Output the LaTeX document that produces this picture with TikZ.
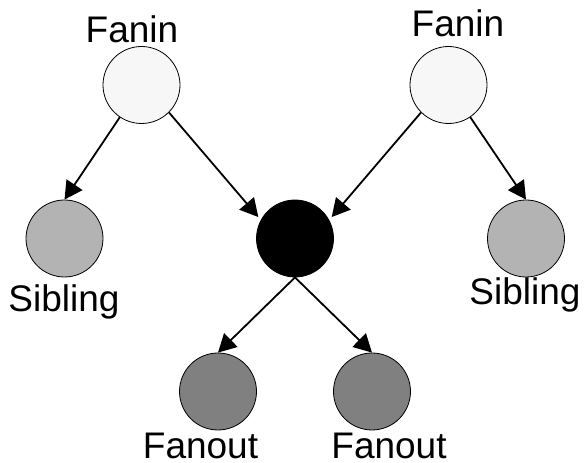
\documentclass[tikz,border=0pt]{standalone}
\usepackage{fontspec}
\setmainfont{Liberation Sans}
\usetikzlibrary{arrows.meta}
\definecolor{faninfill}{HTML}{F7F7F7}
\definecolor{sibfill}{HTML}{B3B3B3}
\definecolor{fanoutfill}{HTML}{808080}
\begin{document}
\begin{tikzpicture}[x=1pt,y=1pt,
  gate/.style={circle,draw=black,line width=0.8pt,minimum size=77pt,inner sep=0pt},
  lbl/.style={anchor=base,inner sep=0pt,font=\fontsize{37}{40}\selectfont},
  conn/.style={line width=1.8pt,-{Triangle[length=18pt,width=19pt]}}]
\useasboundingbox (0,0) rectangle (584,463);
% nodes (y = 463 - pixel y)
\node[gate,fill=faninfill] (fl) at (141.5,378) {};
\node[gate,fill=faninfill] (fr) at (448.5,378) {};
\node[gate,fill=sibfill] (sl) at (64.5,224.5) {};
\node[gate,fill=sibfill] (sr) at (526,224.5) {};
\node[gate,fill=black] (c) at (295,224.5) {};
\node[gate,fill=fanoutfill] (ol) at (218,71.5) {};
\node[gate,fill=fanoutfill] (or) at (372,71.5) {};
% labels
\node[lbl] (tfl) at (132,420) {Fanin};
\node[lbl] (tfr) at (458,426) {Fanin};
\node[lbl] (tsl) at (64,151) {Sibling};
\node[lbl] (tsr) at (525,158) {Sibling};
\node[lbl] (tol) at (200.5,4.5) {Fanout};
\node[lbl] (tor) at (389,4.5) {Fanout};
% connectors
\draw[conn] (fl) -- (sl.north);
\draw[conn] (fr) -- (sr.north);
\draw[conn] (fl.-45) -- ([shift={(-3pt,2pt)}]c.150);
\draw[conn] (fr.-135) -- ([shift={(3pt,2pt)}]c.30);
\draw[conn] (c.south) -- (ol.north);
\draw[conn] (c.south) -- (or.north);
\end{tikzpicture}
\end{document}
